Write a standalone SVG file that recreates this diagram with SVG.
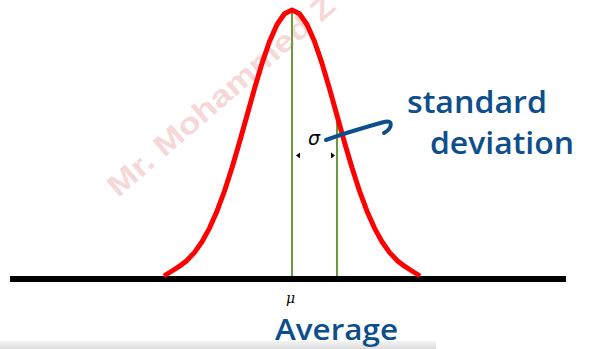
<svg xmlns="http://www.w3.org/2000/svg" width="589" height="349" viewBox="0 0 589 349">
  <defs>
    <style>
      .hand { font-family: "Open Sans", "DejaVu Sans", sans-serif; font-weight: 600; fill: #0d4e8c; }
      .green { stroke: #6b9a3e; stroke-width: 2; fill: none; }
      .tick { fill: #000; }
    </style>
    <linearGradient id="bar" x1="0" y1="0" x2="0" y2="1">
      <stop offset="0" stop-color="#f4f4f4"/>
      <stop offset="1" stop-color="#dcdcdc"/>
    </linearGradient>
  </defs>
  <rect width="589" height="349" fill="#ffffff"/>
  <rect x="0" y="341" width="436" height="8" fill="url(#bar)"/>

  <g id="watermark">
    <text x="0" y="0" transform="translate(118,198) rotate(-40.8)" font-family="Liberation Sans, Arial, sans-serif" font-weight="bold" font-size="30" fill="#e88080" opacity="0.3" textLength="290" lengthAdjust="spacingAndGlyphs">Mr. Mohammed Z</text>
  </g>

  <g id="axis">
    <line x1="10" y1="279" x2="566" y2="279" stroke="#000" stroke-width="6"/>
  </g>

  <g id="mean-line">
    <line class="green" x1="292" y1="12" x2="292" y2="276"/>
  </g>
  <g id="sigma-line">
    <line class="green" x1="337" y1="112" x2="337" y2="276"/>
  </g>

  <g id="curve">
    <polyline fill="none" stroke="#ff0000" stroke-width="5" stroke-linejoin="round" stroke-linecap="butt"
      points="164,276 172,271 179.5,266.2 187,260.4 194.5,252.4 202,241.7 209.5,228.1 217,211.2 224.5,191 232,167.8 239.5,142.3 247,115.5 254.5,88.6 262,63.4 269.5,41.5 277,24.5 284.5,13.7 292,10 299.5,13.7 307,24.5 314.5,41.5 322,63.4 329.5,88.6 337,115.5 344.5,142.3 352,167.8 359.5,191 367,211.2 374.5,228.1 382,241.7 389.5,252.4 397,260.4 404.5,266.2 412,271 420,276"/>
  </g>

  <g id="sigma">
    <text x="314" y="145" text-anchor="middle" font-family="DejaVu Sans, sans-serif" font-style="italic" font-size="19" fill="#000">σ</text>
    <polygon class="tick" points="296,155.5 300,152.5 300,158.5"/>
    <polygon class="tick" points="335,155.5 331,152.5 331,158.5"/>
  </g>

  <g id="connectors">
    <path d="M326,140 C345,133 366,127 384,122 C393,119 393,128 384,133" fill="none" stroke="#0d4e8c" stroke-width="4" stroke-linecap="round"/>
  </g>

  <g id="label-sd">
    <text class="hand" x="407" y="113" font-size="30" textLength="140" lengthAdjust="spacingAndGlyphs">standard</text>
    <text class="hand" x="430" y="154" font-size="30" textLength="144" lengthAdjust="spacingAndGlyphs">deviation</text>
  </g>

  <g id="label-mu">
    <text x="286" y="303" font-family="DejaVu Serif, serif" font-style="italic" font-size="14" fill="#000">μ</text>
  </g>

  <g id="label-average">
    <text class="hand" x="275" y="340" font-size="28" textLength="123" lengthAdjust="spacingAndGlyphs">Average</text>
  </g>
</svg>
